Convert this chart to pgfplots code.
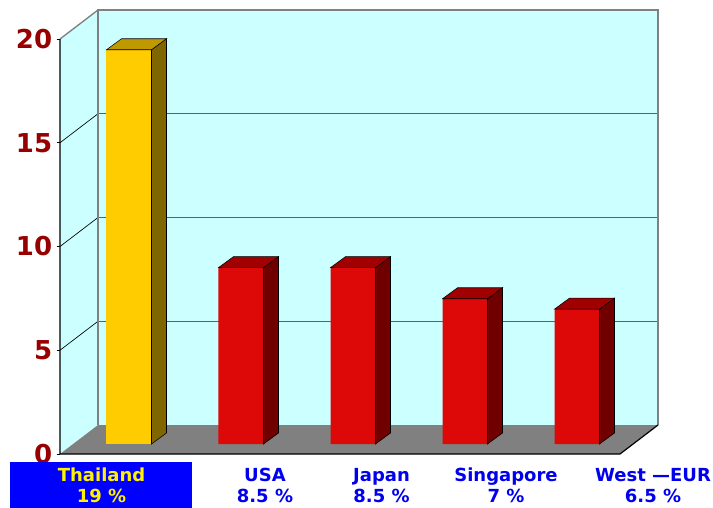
\documentclass[border=0pt]{standalone}
\usepackage{pgfplots}
\pgfplotsset{compat=1.18}
\usepackage{pgfplotstable}
\usepackage{fontspec}
\setmainfont{DejaVu Sans}
\definecolor{wallcyan}{HTML}{CCFFFF}
\definecolor{floorgray}{HTML}{808080}
\definecolor{redfront}{HTML}{DD0808}
\definecolor{redtop}{HTML}{A00000}
\definecolor{redside}{HTML}{700000}
\definecolor{yelfront}{HTML}{FFCC00}
\definecolor{yeltop}{HTML}{C09900}
\definecolor{yelside}{HTML}{806600}
\definecolor{ticknum}{HTML}{960000}
\definecolor{labblue}{HTML}{0000EE}
\definecolor{boxblue}{HTML}{0000FF}
\definecolor{gridgray}{HTML}{606060}

\tikzset{lab/.style={text=labblue, font=\fontsize{13.5}{15.75}\selectfont\bfseries, align=center, anchor=center, inner sep=0pt}}

\pgfplotstableread{
x v
0 19
1 8.5
2 8.5
3 7
4 6.5
}\sharedata

\pgfplotsset{
  side3d/.style n args={2}{scatter, only marks, mark=*, mark size=0pt,
    mark options={draw=none,fill=none},
    visualization depends on={\thisrow{v}\as\val},
    scatter/@pre marker code/.code={%
      \pgfmathsetmacro\Hb{8.25-\val*15.5625}%
      \pgfmathsetmacro\Ha{-\val*15.5625}%
      \fill[#1] (16.875pt,0pt) -- (28.125pt,8.25pt) -- (28.125pt,\Hb pt) -- (16.875pt,\Ha pt) -- cycle;
      \fill[#2] (-16.875pt,0pt) -- (-5.625pt,8.25pt) -- (28.125pt,8.25pt) -- (16.875pt,0pt) -- cycle;},
    scatter/@post marker code/.code={}},
}

\begin{document}
\begin{tikzpicture}
\begin{axis}[
  scale only axis, width=420pt, height=311.25pt,
  xmin=-0.5, xmax=4.5, ymin=0, ymax=20,
  clip=false,
  axis line style={draw=none},
  ytick={0,5,10,15,20},
  ytick pos=left, tick align=outside, major tick length=2.5pt,
  ytick style={black, line width=0.6pt},
  xtick=\empty,
  /pgf/number format/assume math mode=true,
  yticklabel style={text=ticknum, font=\fontsize{19.5}{20}\selectfont\bfseries, inner sep=1pt, xshift=-2.2pt},
]
% walls and floor
\fill[wallcyan] ([xshift=28.5pt,yshift=21.75pt]axis cs:-0.5,0) rectangle ([xshift=28.5pt,yshift=21.75pt]axis cs:4.5,20);
\fill[wallcyan] (axis cs:-0.5,0) -- ([xshift=28.5pt,yshift=21.75pt]axis cs:-0.5,0) -- ([xshift=28.5pt,yshift=21.75pt]axis cs:-0.5,20) -- (axis cs:-0.5,20) -- cycle;
\fill[floorgray] (axis cs:-0.5,0) -- (axis cs:4.5,0) -- ([xshift=28.5pt,yshift=21.75pt]axis cs:4.5,0) -- ([xshift=28.5pt,yshift=21.75pt]axis cs:-0.5,0) -- cycle;
\pgfplotsinvokeforeach{5,10,15}{
  \draw[gridgray, line width=0.75pt] ([xshift=28.5pt,yshift=21.75pt]axis cs:-0.5,#1) -- ([xshift=28.5pt,yshift=21.75pt]axis cs:4.5,#1);
  \draw[black, line width=0.5pt] (axis cs:-0.5,#1) -- ([xshift=28.5pt,yshift=21.75pt]axis cs:-0.5,#1);
}
\draw[floorgray, line width=1.5pt] ([xshift=28.5pt,yshift=21.75pt]axis cs:-0.5,0) -- ([xshift=28.5pt,yshift=21.75pt]axis cs:-0.5,20) -- ([xshift=28.5pt,yshift=21.75pt]axis cs:4.5,20) -- ([xshift=28.5pt,yshift=21.75pt]axis cs:4.5,0);
\draw[floorgray, line width=1pt] (axis cs:-0.5,20) -- ([xshift=28.5pt,yshift=21.75pt]axis cs:-0.5,20);
\draw[black, line width=0.9pt] (axis cs:-0.5,20) -- (axis cs:-0.5,0) -- (axis cs:4.5,0) -- ([xshift=28.5pt,yshift=21.75pt]axis cs:4.5,0);
% bars
\addplot[ybar, bar width=33.75pt, bar shift=0pt, fill=yelfront, draw=none, xshift=9.75pt, yshift=7.5pt, restrict x to domain=-0.5:0.5] table[x=x,y=v]{\sharedata};
\addplot[side3d={fill=yelside}{fill=yeltop}, xshift=9.75pt, yshift=7.5pt, restrict x to domain=-0.5:0.5] table[x=x,y=v]{\sharedata};
\addplot[ybar, bar width=33.75pt, bar shift=0pt, fill=redfront, draw=none, xshift=9.75pt, yshift=7.5pt, restrict x to domain=0.5:4.5] table[x=x,y=v]{\sharedata};
\addplot[side3d={fill=redside}{fill=redtop}, xshift=9.75pt, yshift=7.5pt, restrict x to domain=0.5:4.5] table[x=x,y=v]{\sharedata};
% category labels
\fill[boxblue] (axis cs:-0.946,-0.386) rectangle (axis cs:0.679,-2.7);
\node[lab, text=yellow] at (axis cs:-0.129,-1.518) {Thailand\\19 \%};
\node[lab] at (axis cs:1.330,-1.518) {USA\\8.5 \%};
\node[lab] at (axis cs:2.371,-1.518) {Japan\\8.5 \%};
\node[lab] at (axis cs:3.482,-1.518) {Singapore\\7 \%};
\node[lab] at (axis cs:4.795,-1.518) {West —EUR\\6.5 \%};
\coordinate (bbll) at (axis cs:-1.0357,-2.554);
\coordinate (bbur) at (axis cs:5.3304,21.88);
\end{axis}
\pgfresetboundingbox
\path (bbll) rectangle (bbur);
\end{tikzpicture}
\end{document}
